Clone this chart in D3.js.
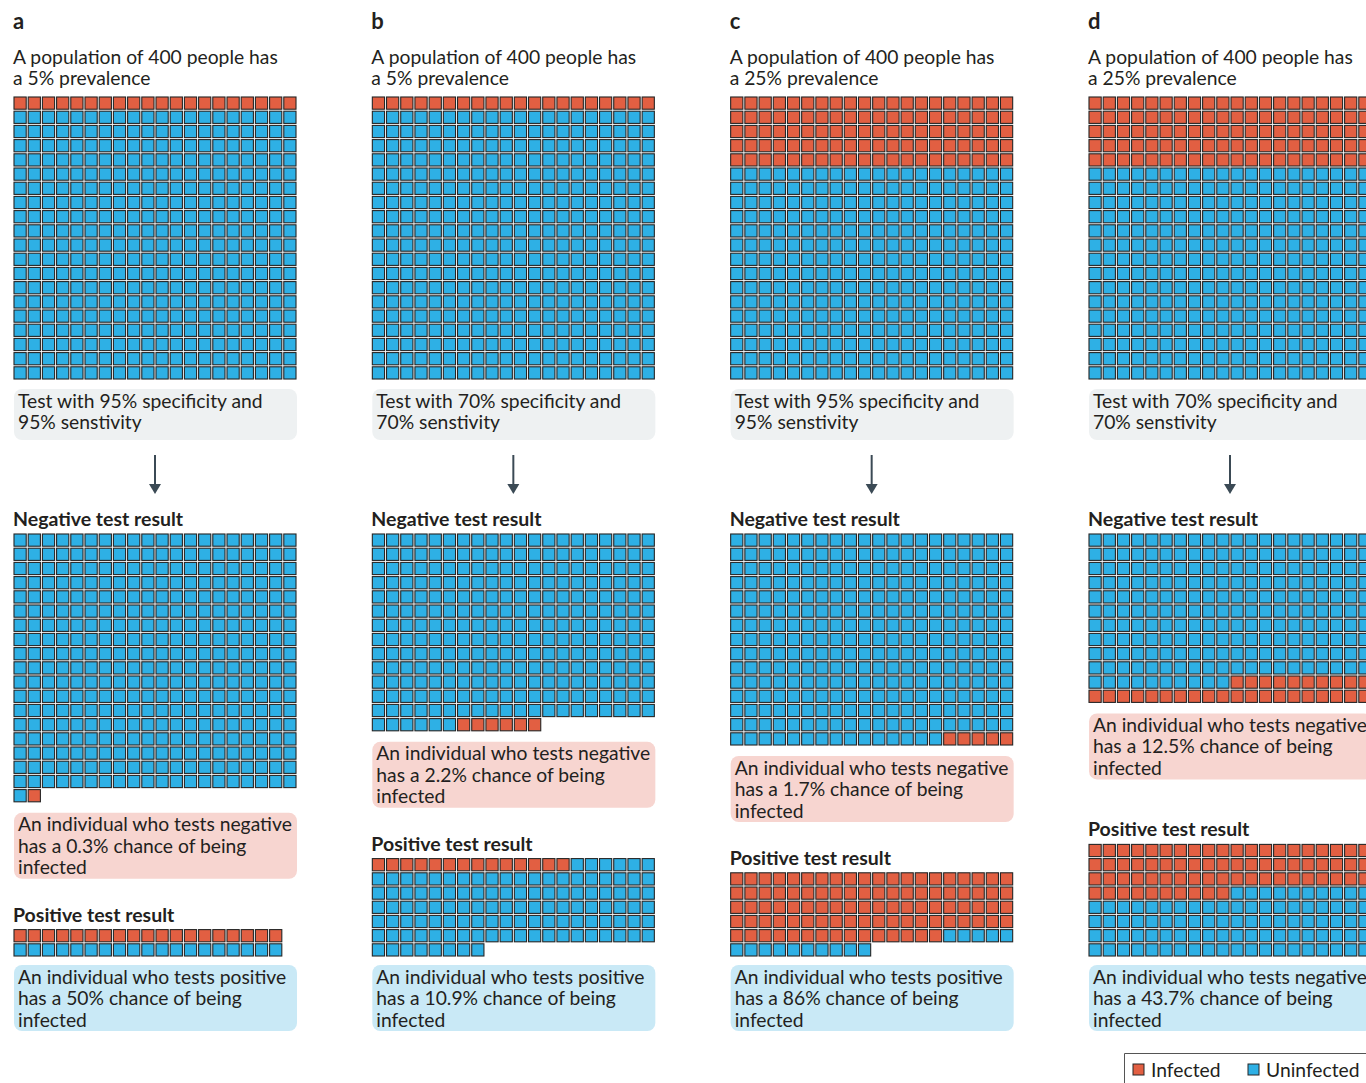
<!doctype html>
<html>
  <head>
    <script src="https://cdnjs.cloudflare.com/ajax/libs/d3/7.8.5/d3.min.js"></script>
    <style>
      body { margin: 0; background: #fff; }
      svg { display: block; font-family: Lato, "Open Sans", sans-serif; }
    </style>
  </head>
  <body>
    <svg id="chart" width="1366" height="1083"></svg>
    <script>
      // one entry per panel
      var panelLetters = ["a", "b", "c", "d"];
      var prevalence = ["5%", "5%", "25%", "25%"];
      var accuracy = ["95%", "70%", "95%", "70%"];
      var popInfected = [20, 20, 100, 100];
      var popTotal = [400, 400, 400, 400];
      var negUninfected = [361, 266, 295, 210];
      var negInfected = [1, 6, 5, 30];
      var posInfected = [19, 14, 95, 70];
      var posUninfected = [19, 114, 15, 90];
      var posColumns = [19, 20, 20, 20];
      var negChance = ["0.3%", "2.2%", "1.7%", "12.5%"];
      var posChance = ["50%", "10.9%", "86%", "43.7%"];
      var posWord = ["positive", "positive", "positive", "negative"];

      var RED = "#e25f42", BLUE = "#2eb0e5", INK = "#231f20";
      var FS = 19.3;
      var svg = d3.select("#chart");

      var panelX = d3.scalePoint().domain(panelLetters).range([13, 1088]);
      var col = d3.scaleBand().domain(d3.range(20)).range([0, 284]).paddingInner(0.14).paddingOuter(0.07);
      var step = col.step();

      function cells(first, firstColor, second, secondColor) {
        return d3.range(first).map(() => firstColor)
          .concat(d3.range(second).map(() => secondColor));
      }

      function drawGrid(g, data, top, ncol) {
        ncol = ncol || 20;
        var rows = Math.ceil(data.length / ncol);
        var row = d3.scaleBand().domain(d3.range(rows)).range([top, top + rows * step])
          .paddingInner(0.14).paddingOuter(0.07);
        g.selectAll(null).data(data).enter().append("rect")
          .attr("x", (d, i) => col(i % ncol))
          .attr("y", (d, i) => row(Math.floor(i / ncol)))
          .attr("width", col.bandwidth())
          .attr("height", row.bandwidth())
          .attr("fill", d => d)
          .attr("stroke", "#262626")
          .attr("stroke-width", 1.1);
        return top + rows * step;
      }

      function note(g, top, fill, lines) {
        g.append("rect").attr("x", 1).attr("y", top).attr("width", 283).attr("height", 66)
          .attr("rx", 8).attr("fill", fill);
        g.selectAll(null).data(lines).enter().append("text")
          .attr("x", 5).attr("y", (d, i) => top + 18.5 + i * 21.5)
          .attr("font-size", FS).attr("fill", INK).text(d => d);
      }

      panelLetters.forEach(function(p, i) {
        var g = svg.append("g").attr("transform", "translate(" + panelX(p) + ",0)");
        g.append("text").attr("x", 0).attr("y", 29).attr("font-size", 22)
          .attr("font-weight", 700).attr("fill", INK).text(p);
        g.selectAll(null).data(["A population of " + popTotal[i] + " people has", "a " + prevalence[i] + " prevalence"])
          .enter().append("text")
          .attr("x", 0).attr("y", (d, k) => 63.5 + k * 21.5)
          .attr("font-size", FS).attr("fill", INK).text(d => d);

        drawGrid(g, cells(popInfected[i], RED, popTotal[i] - popInfected[i], BLUE), 96);

        // test box
        g.append("rect").attr("x", 1).attr("y", 389).attr("width", 283).attr("height", 51)
          .attr("rx", 8).attr("fill", "#eef1f2");
        g.selectAll(null).data(["Test with " + accuracy[i] + " specificity and", accuracy[i] + " senstivity"])
          .enter().append("text")
          .attr("x", 5).attr("y", (d, k) => 407.5 + k * 21.5)
          .attr("font-size", FS).attr("fill", INK).text(d => d);

        // arrow
        g.append("line").attr("x1", 142).attr("x2", 142).attr("y1", 455).attr("y2", 486)
          .attr("stroke", "#3b4a55").attr("stroke-width", 2);
        g.append("path").attr("d", "M136,484 L148,484 L142,494 Z").attr("fill", "#3b4a55");

        // negative results
        g.append("text").attr("x", 0).attr("y", 526).attr("font-size", 19.5)
          .attr("font-weight", 700).attr("fill", INK).text("Negative test result");
        var negBottom = drawGrid(g, cells(negUninfected[i], BLUE, negInfected[i], RED), 533);
        note(g, negBottom + 10, "#f7d5d0",
          ["An individual who tests negative", "has a " + negChance[i] + " chance of being", "infected"]);

        // positive results, bottom aligned
        var posRows = Math.ceil((posInfected[i] + posUninfected[i]) / posColumns[i]);
        var posTop = 957 - posRows * step;
        g.append("text").attr("x", 0).attr("y", posTop - 7).attr("font-size", 19.5)
          .attr("font-weight", 700).attr("fill", INK).text("Positive test result");
        drawGrid(g, cells(posInfected[i], RED, posUninfected[i], BLUE), posTop, posColumns[i]);
        note(g, 965, "#c9e9f6",
          ["An individual who tests " + posWord[i], "has a " + posChance[i] + " chance of being", "infected"]);
      });

      // legend
      var legendItems = ["Infected", "Uninfected"];
      var legendColors = [RED, BLUE];
      var lg = svg.append("g").attr("transform", "translate(1124,1053)");
      lg.append("path").attr("d", "M0.5,31 L0.5,0.5 L243,0.5").attr("fill", "none")
        .attr("stroke", "#555").attr("stroke-width", 1);
      var lx = d3.scaleOrdinal().domain(legendItems).range([9, 124]);
      legendItems.forEach(function(t, i) {
        lg.append("rect").attr("x", lx(t)).attr("y", 11).attr("width", 11).attr("height", 11)
          .attr("fill", legendColors[i]).attr("stroke", "#262626");
        lg.append("text").attr("x", lx(t) + 18).attr("y", 24).attr("font-size", FS)
          .attr("fill", INK).text(t);
      });
    </script>
  </body>
</html>
